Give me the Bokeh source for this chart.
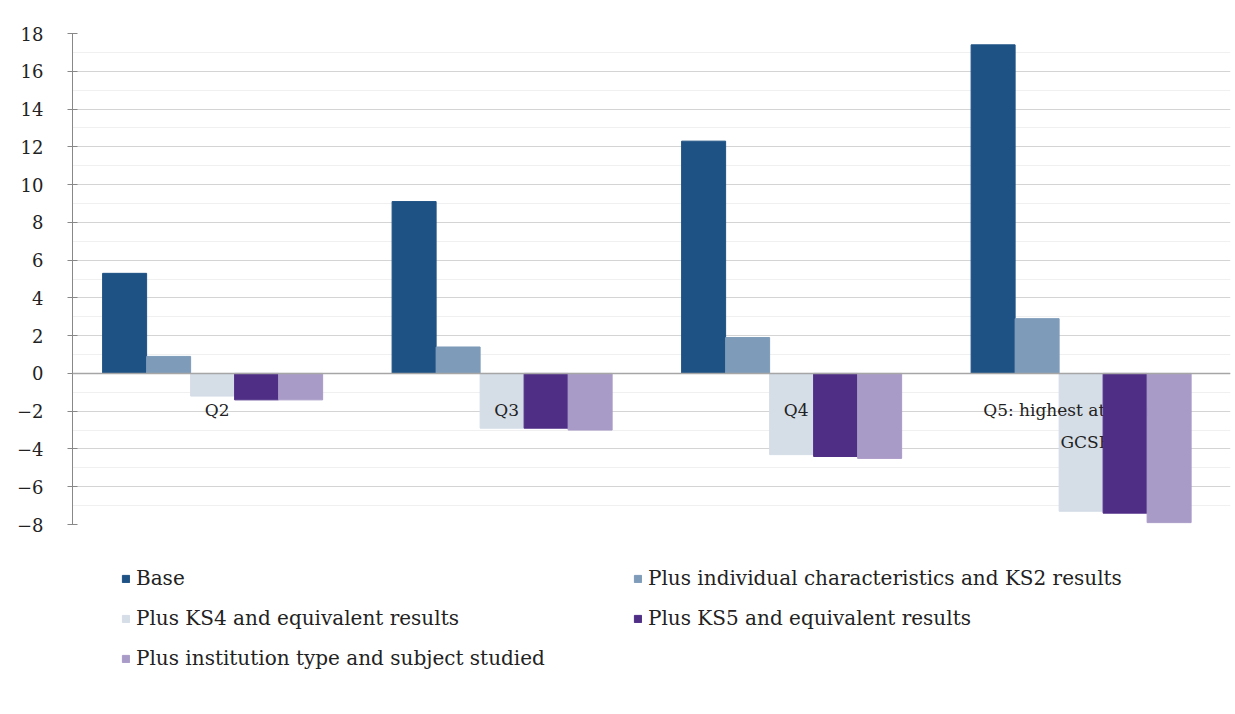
from bokeh.plotting import figure
from bokeh.layouts import column
from bokeh.models import (Range1d, FactorRange, Legend, LegendItem, Span,
                          FixedTicker, ColumnDataSource)
from bokeh.transform import dodge
from bokeh.embed import file_html
from bokeh.resources import INLINE
from bokeh.core.properties import value

categories = ["Q2", "Q3", "Q4", "Q5"]
category_labels = ["Q2", "Q3", "Q4", "Q5: highest attaining at\nGCSE"]

base = [5.3, 9.1, 12.3, 17.4]
plus_individual_ks2 = [0.9, 1.4, 1.9, 2.9]
plus_ks4 = [-1.2, -2.9, -4.3, -7.3]
plus_ks5 = [-1.4, -2.9, -4.4, -7.4]
plus_institution = [-1.4, -3.0, -4.5, -7.9]

series_names = [
    "Base",
    "Plus individual characteristics and KS2 results",
    "Plus KS4 and equivalent results",
    "Plus KS5 and equivalent results",
    "Plus institution type and subject studied",
]
y_ticks = list(range(-8, 19, 2))

colors = ["#1E5285", "#7E9BB9", "#D5DDE7", "#4F2E86", "#A99BC7"]
SERIF = "DejaVu Serif"

src = ColumnDataSource(dict(cat=categories, label=category_labels,
                            s0=base, s1=plus_individual_ks2, s2=plus_ks4,
                            s3=plus_ks5, s4=plus_institution,
                            zero=[0] * len(categories)))

p = figure(width=1232, height=536, output_backend="svg", toolbar_location=None,
           x_range=FactorRange(*categories, range_padding=0),
           y_range=Range1d(-8, 18),
           min_border_left=72, min_border_top=33, min_border_bottom=12,
           min_border_right=2)

bw = 0.152
offsets = [-0.32, -0.168, -0.016, 0.136, 0.288]

def add_bar(i):
    p.vbar(x=dodge("cat", offsets[i], range=p.x_range), top="s%d" % i, bottom=0,
           width=bw, source=src, fill_color=colors[i], line_color=colors[i])

for i in range(3):
    add_bar(i)

p.text(x="cat", y="zero", text="label", source=src, y_offset=27,
       text_align="center", text_baseline="top", text_font=value(SERIF),
       text_font_size="17px", text_color="#222222", text_line_height=1.6)

for i in range(3, 5):
    add_bar(i)

p.add_layout(Span(location=0, dimension="width", line_color="#A6A6A6", line_width=1.5))

p.xaxis.visible = False
p.xgrid.visible = False
p.ygrid.grid_line_color = "#D4D4D4"
p.ygrid.minor_grid_line_color = "#F0F0F0"
p.yaxis.ticker = FixedTicker(ticks=y_ticks, minor_ticks=list(range(-7, 18, 2)))
p.yaxis.minor_tick_line_color = None
p.yaxis.major_tick_out = 5
p.yaxis.major_tick_in = 5
p.yaxis.axis_line_color = "#888888"
p.yaxis.major_tick_line_color = "#888888"
p.yaxis.major_label_standoff = 24
p.yaxis.major_label_text_font = SERIF
p.yaxis.major_label_text_font_size = "18px"
p.yaxis.major_label_text_color = "#222222"
p.outline_line_color = None

# legend figure (proxy glyphs sit outside its visible range)
lg = figure(width=1232, height=176, output_backend="svg", toolbar_location=None,
            x_range=Range1d(0, 1), y_range=Range1d(0, 1),
            min_border=0)
lg.axis.visible = False
lg.grid.visible = False
lg.outline_line_color = None
proxy = ColumnDataSource(dict(x=[-5], top=[-5]))
legend_renderers = [lg.vbar(x="x", top="top", width=0.1, source=proxy,
                            fill_color=c, line_color=c) for c in colors]
order = [0, 2, 4, 1, 3]  # column-major fill: Base, KS4, Inst | Indiv, KS5
items = [LegendItem(label=series_names[i], renderers=[legend_renderers[i]]) for i in order]
legend = Legend(items=items, ncols=2, location=(49, 42),
                label_text_font=SERIF, label_text_font_size="20px",
                label_text_color="#222222", glyph_width=9, glyph_height=9,
                label_standoff=6, label_width=481, label_height=20,
                spacing=16, padding=0, margin=0,
                background_fill_alpha=0, border_line_alpha=0)
lg.add_layout(legend)

layout = column(p, lg, spacing=0)
open("out.html", "w").write(file_html(layout, INLINE))
